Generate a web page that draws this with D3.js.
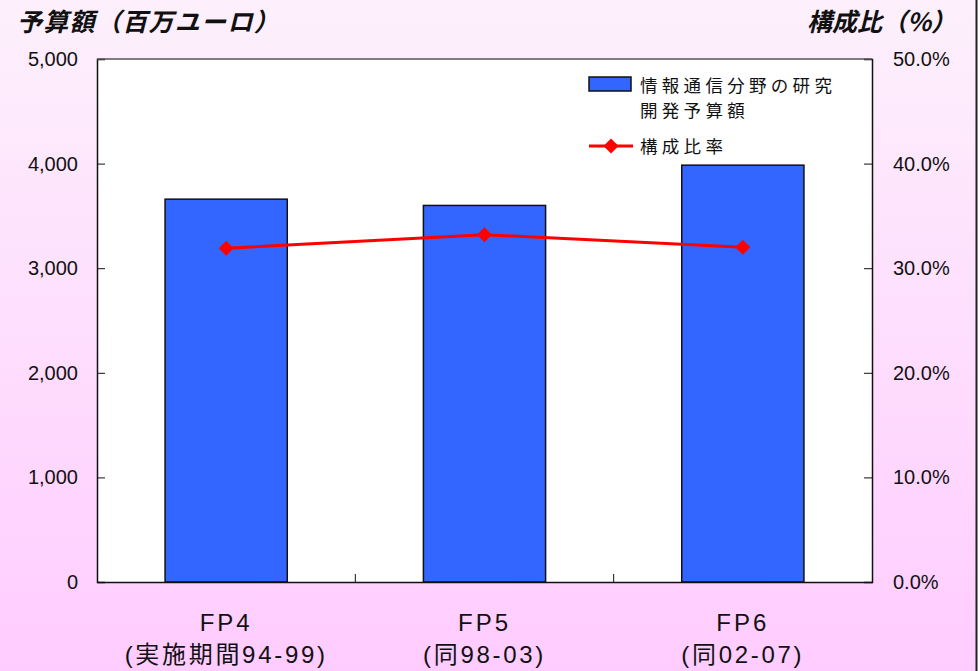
<!DOCTYPE html>
<html>
<head>
<meta charset="utf-8">
<script src="https://cdn.jsdelivr.net/npm/d3@7"></script>
<style>
  body { margin: 0; }
  svg { display: block; }
</style>
</head>
<body>
<div id="chart"></div>
<script>
// Data
const categories = ["FP4", "FP5", "FP6"];
const subLabels = ["(実施期間94-99)", "(同98-03)", "(同02-07)"];
const budget = [3660, 3600, 3985];      // 百万ユーロ
const ratio = [31.9, 33.2, 32.0];        // %
const leftTicks = [0, 1000, 2000, 3000, 4000, 5000];
const rightTicks = [0, 10, 20, 30, 40, 50];

const width = 980;
const height = 671;
const margin = {top: 59, right: 108, bottom: 89, left: 97};

const svg = d3.select("#chart").append("svg")
    .attr("width", width)
    .attr("height", height);

// Background gradient
const grad = svg.append("defs").append("linearGradient")
    .attr("id", "bg")
    .attr("x1", 0).attr("y1", 0).attr("x2", 0).attr("y2", 1);
grad.append("stop").attr("offset", "0%").attr("stop-color", "#fdf0fc");
grad.append("stop").attr("offset", "100%").attr("stop-color", "#ffccff");

svg.append("rect")
    .attr("width", width).attr("height", height)
    .attr("fill", "#ffffff");
svg.append("rect")
    .attr("width", 976).attr("height", height)
    .attr("fill", "url(#bg)");
svg.append("line")
    .attr("x1", 976.5).attr("x2", 976.5)
    .attr("y1", 0).attr("y2", height)
    .attr("stroke", "#222").attr("stroke-width", 2);

const x = d3.scaleBand()
    .domain(categories)
    .range([margin.left, width - margin.right])
    .paddingInner(0.527)
    .paddingOuter(0.2635);

const xBounds = d3.scaleBand()
    .domain(categories)
    .range([margin.left, width - margin.right]);

const y = d3.scaleLinear()
    .domain([0, 5000])
    .range([height - margin.bottom, margin.top]);

const y2 = d3.scaleLinear()
    .domain([0, 50])
    .range([height - margin.bottom, margin.top]);

// Plot area
svg.append("rect")
    .attr("x", margin.left)
    .attr("y", margin.top)
    .attr("width", width - margin.left - margin.right)
    .attr("height", height - margin.top - margin.bottom)
    .attr("fill", "#ffffff");

// Bars
svg.append("g")
    .selectAll("rect")
    .data(budget)
    .join("rect")
    .attr("x", (d, i) => x(categories[i]))
    .attr("y", d => y(d))
    .attr("width", x.bandwidth())
    .attr("height", d => y(0) - y(d))
    .attr("fill", "#3366ff")
    .attr("stroke", "#111")
    .attr("stroke-width", 1.5);

// Axes
const tickFont = "'Liberation Sans', Arial, sans-serif";

const leftAxis = svg.append("g")
    .attr("transform", `translate(${margin.left},0)`)
    .call(d3.axisLeft(y).tickValues(leftTicks).tickSize(-8).tickPadding(19)
        .tickFormat(d3.format(",")));

const rightAxis = svg.append("g")
    .attr("transform", `translate(${width - margin.right},0)`)
    .call(d3.axisRight(y2).tickValues(rightTicks).tickSize(-8).tickPadding(21)
        .tickFormat(d => d3.format(".1f")(d) + "%"));

const bottomAxis = svg.append("g")
    .attr("transform", `translate(0,${height - margin.bottom})`)
    .call(d3.axisBottom(xBounds).tickValues([]).tickSizeOuter(0));

// category separator ticks (pointing inward)
svg.append("g")
    .selectAll("line")
    .data(categories.slice(1))
    .join("line")
    .attr("x1", d => xBounds(d))
    .attr("x2", d => xBounds(d))
    .attr("y1", height - margin.bottom)
    .attr("y2", height - margin.bottom - 8)
    .attr("stroke", "#111");

[leftAxis, rightAxis, bottomAxis].forEach(a => {
  a.select(".domain").attr("stroke", "#111").attr("stroke-width", 1.5);
  a.selectAll(".tick line").attr("stroke", "#111");
  a.selectAll("text")
    .attr("font-family", tickFont)
    .attr("font-size", 20)
    .attr("fill", "#111");
});

// top border of plot
svg.append("line")
    .attr("x1", margin.left).attr("x2", width - margin.right)
    .attr("y1", margin.top).attr("y2", margin.top)
    .attr("stroke", "#555").attr("stroke-width", 1.5);

// Category labels
const catG = svg.append("g")
    .attr("font-family", "'Liberation Sans', 'Noto Sans CJK JP', sans-serif")
    .attr("font-size", 24)
    .attr("fill", "#111")
    .attr("text-anchor", "middle");

catG.selectAll("text.cat")
    .data(categories)
    .join("text")
    .attr("class", "cat")
    .attr("x", d => xBounds(d) + xBounds.bandwidth() / 2)
    .attr("y", 631)
    .attr("letter-spacing", 3)
    .text(d => d);

catG.selectAll("text.sub")
    .data(subLabels)
    .join("text")
    .attr("class", "sub")
    .attr("x", (d, i) => xBounds(categories[i]) + xBounds.bandwidth() / 2)
    .attr("y", 663)
    .attr("letter-spacing", 2.7)
    .text(d => d);

// Ratio line
const cx = (d, i) => x(categories[i]) + x.bandwidth() / 2;
const line = d3.line()
    .x((d, i) => cx(d, i))
    .y(d => y2(d));

svg.append("path")
    .datum(ratio)
    .attr("d", line)
    .attr("fill", "none")
    .attr("stroke", "#ff0000")
    .attr("stroke-width", 3);

const diamond = d3.symbol().type(d3.symbolSquare).size(112);

svg.append("g")
    .selectAll("path")
    .data(ratio)
    .join("path")
    .attr("d", diamond)
    .attr("transform", (d, i) => `translate(${cx(d, i)},${y2(d)}) rotate(45)`)
    .attr("fill", "#ff0000");

// Legend
const legend = svg.append("g")
    .attr("font-family", "'Noto Sans CJK JP', sans-serif")
    .attr("font-size", 17.5)
    .attr("fill", "#111");

legend.append("rect")
    .attr("x", 589).attr("y", 77)
    .attr("width", 42).attr("height", 14)
    .attr("fill", "#3366ff")
    .attr("stroke", "#111")
    .attr("stroke-width", 1.5);

legend.append("text")
    .attr("x", 640).attr("y", 91.5)
    .attr("letter-spacing", 4.3)
    .text("情報通信分野の研究");
legend.append("text")
    .attr("x", 640).attr("y", 117)
    .attr("letter-spacing", 4.3)
    .text("開発予算額");

legend.append("line")
    .attr("x1", 589).attr("x2", 633)
    .attr("y1", 146).attr("y2", 146)
    .attr("stroke", "#ff0000").attr("stroke-width", 3);
legend.append("path")
    .attr("d", diamond)
    .attr("transform", "translate(611,146) rotate(45)")
    .attr("fill", "#ff0000");
legend.append("text")
    .attr("x", 640).attr("y", 153)
    .attr("letter-spacing", 4.3)
    .text("構成比率");

// Axis titles
svg.append("text")
    .attr("x", 17).attr("y", 31)
    .attr("font-family", "'Noto Sans CJK JP', sans-serif")
    .attr("font-size", 25)
    .attr("font-weight", "bold")
    .attr("font-style", "italic")
    .attr("letter-spacing", 1.3)
    .attr("fill", "#111")
    .text("予算額（百万ユーロ）");

svg.append("text")
    .attr("x", 956).attr("y", 31)
    .attr("text-anchor", "end")
    .attr("font-family", "'Noto Sans CJK JP', sans-serif")
    .attr("font-size", 25)
    .attr("font-weight", "bold")
    .attr("font-style", "italic")
    .attr("fill", "#111")
    .text("構成比（%）");
</script>
</body>
</html>
